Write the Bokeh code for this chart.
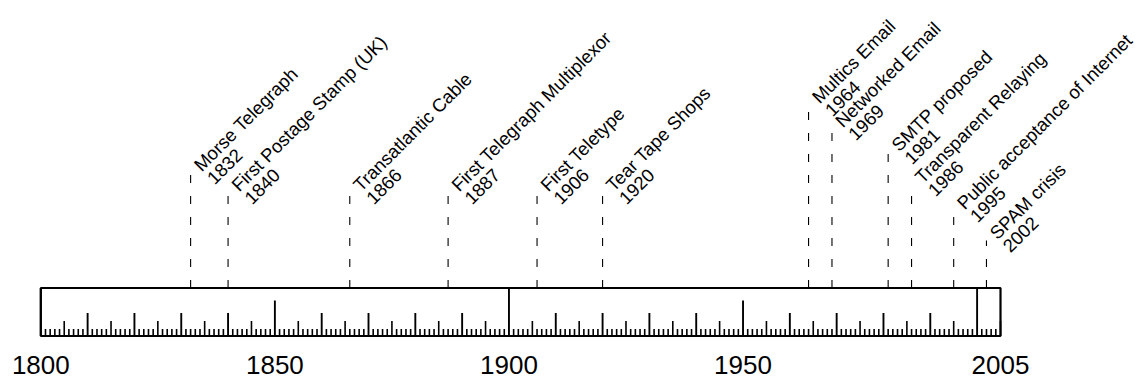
import numpy as np
from bokeh.plotting import figure
from bokeh.models import Range1d, ColumnDataSource
from bokeh.core.properties import value
from bokeh.embed import file_html
from bokeh.resources import INLINE

# ---------------- data ----------------
event_names = ["Morse Telegraph", "First Postage Stamp (UK)", "Transatlantic Cable",
               "First Telegraph Multiplexor", "First Teletype", "Tear Tape Shops",
               "Multics Email", "Networked Email", "SMTP proposed",
               "Transparent Relaying", "Public acceptance of Internet", "SPAM crisis"]
event_years = [1832, 1840, 1866, 1887, 1906, 1920, 1964, 1969, 1981, 1986, 1995, 2002]
# stem height above the timeline box
event_stems = [115.5, 95.5, 95.5, 95.5, 95.5, 95.5, 183.5, 159.5, 135.5, 103.5, 77.5, 47.5]
axis_labels = [1800, 1850, 1900, 1950, 2005]
start_year = 1800
end_year = 2005

# ---------------- style ----------------
BOX_H = 48
FONT = value("Liberation Sans")
W, H = 1139, 382

p = figure(width=W, height=H, output_backend="svg", toolbar_location=None,
           x_range=Range1d(1791.39, 2034.69), y_range=Range1d(-46.5, 335.5),
           min_border=0, outline_line_color=None)
p.min_border_left = p.min_border_right = p.min_border_top = p.min_border_bottom = 0
p.axis.visible = False
p.grid.visible = False
p.background_fill_color = "white"
p.border_fill_color = "white"

# ruler ticks
years = np.arange(start_year, end_year + 1)
def tick_len(y):
    if y % 100 == 0:
        return BOX_H
    if y % 50 == 0:
        return 35.5
    if y % 10 == 0:
        return 23
    if y % 5 == 0:
        return 15
    return 7
lens = np.array([tick_len(y) for y in years], dtype=float)
widths = np.array([1.9 if y % 10 == 0 else 1.6 for y in years])
tsrc = ColumnDataSource(dict(x=years, y0=np.zeros(len(years)), y1=lens, w=widths))
p.segment(x0="x", y0="y0", x1="x", y1="y1", source=tsrc, line_color="black", line_width="w")

# box
p.quad(left=[start_year], right=[end_year], bottom=[0], top=[BOX_H],
       fill_color=None, line_color="black", line_width=2.2)

# event stems
tops = [BOX_H + s for s in event_stems]
esrc = ColumnDataSource(dict(x=event_years, y0=[BOX_H] * len(event_years), y1=tops,
                             name=event_names, yr=[str(y) for y in event_years]))
p.segment(x0="x", y0="y0", x1="x", y1="y1", source=esrc, line_color="black",
          line_width=1.1, line_dash="8 13")

# event labels (two lines, rotated 45 degrees)
p.text(x="x", y="y1", text="name", source=esrc, angle=np.pi / 4,
       text_font=FONT, text_font_size="18.5px", text_align="left",
       text_baseline="alphabetic", x_offset=6.5, y_offset=-4.5, text_color="black")
p.text(x="x", y="y1", text="yr", source=esrc, angle=np.pi / 4,
       text_font=FONT, text_font_size="18.5px", text_align="left",
       text_baseline="alphabetic", x_offset=19.5, y_offset=8.5, text_color="black")

# axis year labels
p.text(x=axis_labels, y=[0] * len(axis_labels), text=[str(a) for a in axis_labels],
       text_font=FONT, text_font_size="26px", text_align="center",
       text_baseline="alphabetic", y_offset=29, text_color="black")

open("out.html", "w").write(file_html(p, INLINE))
